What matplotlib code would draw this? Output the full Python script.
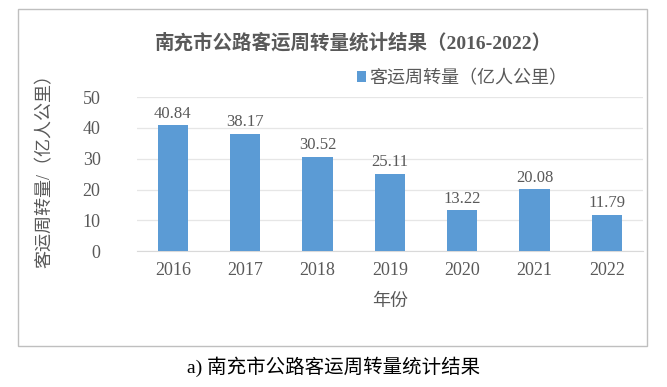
import matplotlib
matplotlib.use("Agg")
import matplotlib.pyplot as plt
from matplotlib.patches import Rectangle

plt.rcParams['font.family'] = ['Liberation Serif', 'Noto Sans CJK SC']

# 数据
years = ['2016', '2017', '2018', '2019', '2020', '2021', '2022']
values = [40.84, 38.17, 30.52, 25.11, 13.22, 20.08, 11.79]
value_labels = ['40.84', '38.17', '30.52', '25.11', '13.22', '20.08', '11.79']
yticks = [0, 10, 20, 30, 40, 50]

bar_color = '#5B9BD5'
text_gray = '#595959'

fig = plt.figure(figsize=(6.67, 3.87), dpi=100)
ax = fig.add_axes([0.205, 0.351, 0.759, 0.398])

x = list(range(len(years)))
ax.bar(x, values, width=0.42, color=bar_color, zorder=3,
       label='客运周转量（亿人公里）')

# 数值标签
for xi, v, s in zip(x, values, value_labels):
    ax.text(xi, v + 1.2, s, ha='center', va='bottom', fontsize=12,
            color=text_gray)

ax.set_xlim(-0.5, 6.5)
ax.set_ylim(0, 50)
ax.set_yticks(yticks)
ax.set_xticks(x)
ax.set_xticklabels(years)
ax.tick_params(axis='both', length=0, labelsize=13, colors=text_gray)
ax.tick_params(axis='x', pad=8)
ax.tick_params(axis='y', pad=26)
ax.grid(axis='y', color='#e6e6e6', linewidth=0.9, zorder=0)
for sp in ['top', 'right', 'left']:
    ax.spines[sp].set_visible(False)
ax.spines['bottom'].set_color('#d9d9d9')

ax.set_xlabel('年份', fontsize=13, color=text_gray, labelpad=10)

# 纵轴标题
fig.text(0.068, 0.57, '客运周转量/（亿人公里）', rotation=90, ha='center',
         va='center', fontsize=13, color=text_gray)

# 标题
fig.text(0.53, 0.89, '南充市公路客运周转量统计结果（2016-2022）', ha='center',
         va='center', fontsize=14, color=text_gray, fontweight='bold')

# 图例
leg = ax.legend(loc='lower left', bbox_to_anchor=(0.42, 1.02), frameon=False,
                fontsize=13, handlelength=0.5, handleheight=0.5,
                handletextpad=0.2, borderaxespad=0)
for t in leg.get_texts():
    t.set_color(text_gray)

# 外框
fig.patches.append(Rectangle((0.027, 0.105), 0.943, 0.873,
                             transform=fig.transFigure, fill=False,
                             edgecolor='#bfbfbf', linewidth=1))

# 图注
fig.text(0.5, 0.052, 'a) 南充市公路客运周转量统计结果', ha='center', va='center',
         fontsize=14, color='black')

fig.savefig('out.png', dpi=100)
